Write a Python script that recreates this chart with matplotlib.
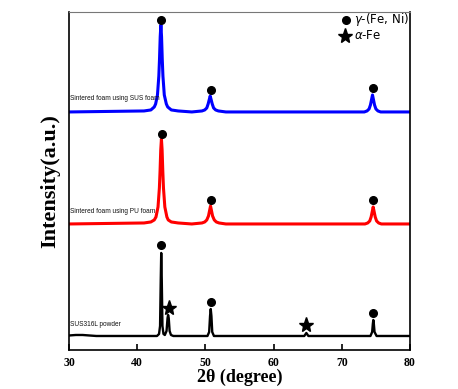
import matplotlib.pyplot as plt

# XRD patterns (2theta, intensity in arbitrary units)
powder_x = [30, 31, 32, 33, 34, 38, 42, 42.9, 43.2, 43.35, 43.45, 43.52, 43.6, 43.7, 43.85, 44.05,
            44.3, 44.45, 44.53, 44.62, 44.75, 44.95, 45.3, 50.3, 50.55, 50.68, 50.78, 50.88, 51.0,
            51.25, 64.5, 64.8, 65.1, 74.2, 74.45, 74.55, 74.62, 74.7, 74.8, 75.1, 80]
powder_y = [14.5, 15, 15, 14.5, 14, 14, 14, 14, 16, 24, 70, 97, 70, 24, 16, 15,
            19, 32, 35, 32, 19, 15, 14, 14, 18, 34, 41, 34, 18,
            14, 14, 17, 14, 14, 18, 26, 30, 26, 18, 14, 14]

pu_x = [30, 41.0, 42.0, 42.5, 42.75, 43.05, 43.25, 43.35, 43.45, 43.55, 43.65, 43.75, 43.85, 44.05,
        44.35, 44.55, 45.0, 46.0, 48.0, 49.5, 49.9, 50.2, 50.45, 50.6, 50.75, 50.9, 51.05, 51.3,
        51.6, 52.0, 53.0, 73.4, 73.8, 74.1, 74.3, 74.45, 74.6, 74.75, 74.9, 75.1, 75.4, 75.8, 80]
pu_y = [126, 127, 128, 130, 133, 143, 162, 179, 200, 211, 200, 179, 162, 143,
        133, 130, 128, 127, 126, 127, 128, 130, 134, 139, 144, 139, 134, 130,
        128, 127, 126, 126, 127, 129, 133, 138, 143, 138, 133, 129, 127, 126, 126]

sus_x = [30, 41.0, 42.0, 42.5, 42.7, 42.97, 43.17, 43.27, 43.37, 43.47, 43.57, 43.67, 43.77, 43.97,
         44.27, 44.47, 45.0, 46.0, 48.0, 49.5, 49.9, 50.2, 50.4, 50.55, 50.7, 50.85, 51.0, 51.2,
         51.5, 51.9, 53.0, 73.3, 73.7, 74.0, 74.2, 74.35, 74.5, 74.65, 74.8, 75.0, 75.3, 75.7, 80]
sus_y = [238, 239, 240, 243, 246, 255, 274, 291, 313, 325, 313, 291, 274, 255,
         246, 243, 240, 239, 238, 239, 240, 242, 246, 250, 254, 250, 246, 242,
         240, 239, 238, 238, 239, 241, 245, 250, 255, 250, 245, 241, 239, 238, 238]

# phase markers
gamma_x = [43.5, 50.8, 74.6, 43.6, 50.8, 74.6, 43.5, 50.8, 74.6]
gamma_y = [330, 260, 262, 216, 150, 150, 105, 48, 37]
alpha_x = [44.6, 64.8]
alpha_y = [42, 25]

labels = ['Sintered foam using SUS foam', 'Sintered foam using PU foam', 'SUS316L powder']
label_y = [251, 138, 25]

fig = plt.figure(figsize=(4.58, 3.89), dpi=100)
ax = fig.add_axes([0.1507, 0.1003, 0.7445, 0.869])

ax.plot(sus_x, sus_y, color='blue', lw=2.2)
ax.plot(pu_x, pu_y, color='red', lw=2.2)
ax.plot(powder_x, powder_y, color='black', lw=1.7)

ax.plot(gamma_x, gamma_y, 'o', color='black', ms=5.5, ls='none')
ax.plot(alpha_x, alpha_y, '*', color='black', ms=11, ls='none')

for lab, yy in zip(labels, label_y):
    ax.text(30.2, yy, lab, fontsize=4.7, fontfamily='Liberation Sans',
            ha='left', va='center', color='#111111')

# legend
ax.plot([70.6], [330], 'o', color='black', ms=5.5)
ax.plot([70.5], [314], '*', color='black', ms=11)
ax.text(71.8, 330, r'$\gamma$-(Fe, Ni)', fontsize=8.5, va='center', ha='left')
ax.text(71.8, 314, r'$\alpha$-Fe', fontsize=8.5, va='center', ha='left')

ax.set_xlim(30, 80)
ax.set_ylim(0, 338)
ax.set_yticks([])
ax.set_xticks([30, 40, 50, 60, 70, 80])
ax.tick_params(axis='x', direction='in', length=4, width=1.2, pad=5)
for t in ax.get_xticklabels():
    t.set_fontfamily('Liberation Serif')
    t.set_fontweight('bold')
    t.set_fontsize(8.5)

ax.spines['top'].set_color('#777777')
for s in ['left', 'right', 'bottom']:
    ax.spines[s].set_linewidth(1.2)

ax.set_xlabel('2θ (degree)', fontfamily='Liberation Serif', fontweight='bold', fontsize=13, labelpad=0)
ax.set_ylabel('Intensity(a.u.)', fontfamily='Liberation Serif', fontweight='bold', fontsize=16, labelpad=6)

fig.savefig('out.png', dpi=100)
